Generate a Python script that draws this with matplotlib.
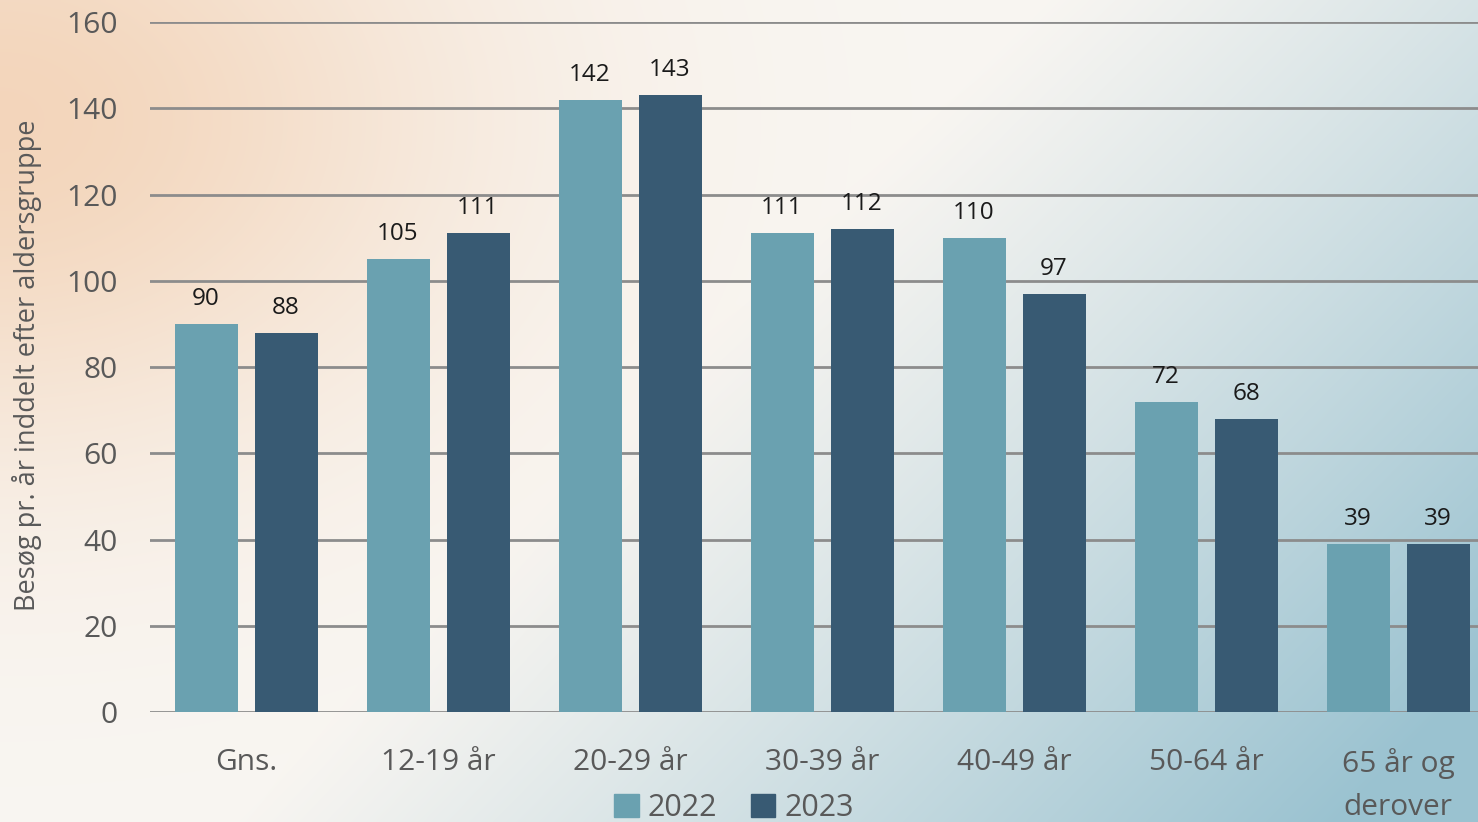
import numpy as np
import matplotlib
matplotlib.use("Agg")
import matplotlib.pyplot as plt
from matplotlib.patches import Patch

categories = ["Gns.", "12-19 år", "20-29 år", "30-39 år", "40-49 år", "50-64 år", "65 år og\nderover"]
series_names = ["2022", "2023"]
values_2022 = [90, 105, 142, 111, 110, 72, 39]
values_2023 = [88, 111, 143, 112, 97, 68, 39]
yticks = [0, 20, 40, 60, 80, 100, 120, 140, 160]
ylabel = "Besøg pr. år inddelt efter aldersgruppe"

c22 = "#6AA1B0"
c23 = "#385A73"
txt_gray = "#595959"
grid_gray = "#8C8C8C"

plt.rcParams['font.family'] = ['Open Sans', 'DejaVu Sans']

W, H = 1478, 822
fig = plt.figure(figsize=(W / 100, H / 100), dpi=100)

# background gradient
bg = fig.add_axes([0, 0, 1, 1], zorder=-10)
yy, xx = np.mgrid[0:H, 0:W].astype(float)
base = np.array([249, 246, 242], float)
img = np.ones((H, W, 3)) * base
peach = np.array([242, 208, 178], float)
d = np.sqrt(((xx - 0) / 520) ** 2 + ((yy - 120) / 380) ** 2)
wp = np.clip(np.exp(-d ** 2 * 1.3), 0, 1)[..., None] * 0.85
img = img * (1 - wp) + peach * wp
blue = np.array([150, 192, 207], float)
t = np.clip((xx / W * 1.0 + yy / H * 0.55 - 0.7) / 0.75, 0, 1)
t = (t ** 1.1)[..., None] * 0.95
img = img * (1 - t) + blue * t
bg.imshow(img.astype(np.uint8), aspect='auto', extent=[0, 1, 0, 1])
bg.axis('off')

# main axes: left 150px, spans 7 slots of 192px
left = 150 / W
width = 7 * 192 / W
bottom = (H - 712) / H
height = 690 / H
ax = fig.add_axes([left, bottom, width, height])
ax.patch.set_alpha(0)

x = np.arange(len(categories))
off = 40 / 192
bw = 63 / 192
b1 = ax.bar(x - off, values_2022, bw, color=c22, zorder=3, label=series_names[0])
b2 = ax.bar(x + off, values_2023, bw, color=c23, zorder=3, label=series_names[1])

for bars, vals in ((b1, values_2022), (b2, values_2023)):
    for rect, v in zip(bars, vals):
        ax.text(rect.get_x() + rect.get_width() / 2, v + 3.0, str(v),
                ha='center', va='bottom', fontsize=17.5, color='#1a1a1a')

ax.set_xlim(-0.5, len(categories) - 0.5)
ax.set_ylim(0, 160)
ax.set_yticks(yticks)
ax.set_yticklabels([str(v) for v in yticks], fontsize=21.5, color=txt_gray)
ax.tick_params(axis='y', length=0, pad=23)
ax.set_xticks(x)
ax.set_xticklabels(categories, fontsize=21.5, color=txt_gray, linespacing=1.65, va='top')
ax.tick_params(axis='x', length=0, pad=26)
ax.grid(axis='y', color=grid_gray, linewidth=2, zorder=0)
for s in ax.spines.values():
    s.set_visible(False)

fig.text(27 / W, 1 - 365 / H, ylabel, rotation=90, ha='center', va='center',
         fontsize=19.5, color=txt_gray)

handles = [Patch(color=c22, label=series_names[0]), Patch(color=c23, label=series_names[1])]
leg = fig.legend(handles=handles, loc='center', bbox_to_anchor=(734 / W, 1 - 808 / H),
                 ncol=2, frameon=False, fontsize=22, handlelength=0.8, handleheight=0.8,
                 handletextpad=0.3, columnspacing=1.1, borderaxespad=0, borderpad=0)
for t_ in leg.get_texts():
    t_.set_color(txt_gray)

fig.savefig("out.png", dpi=100)
